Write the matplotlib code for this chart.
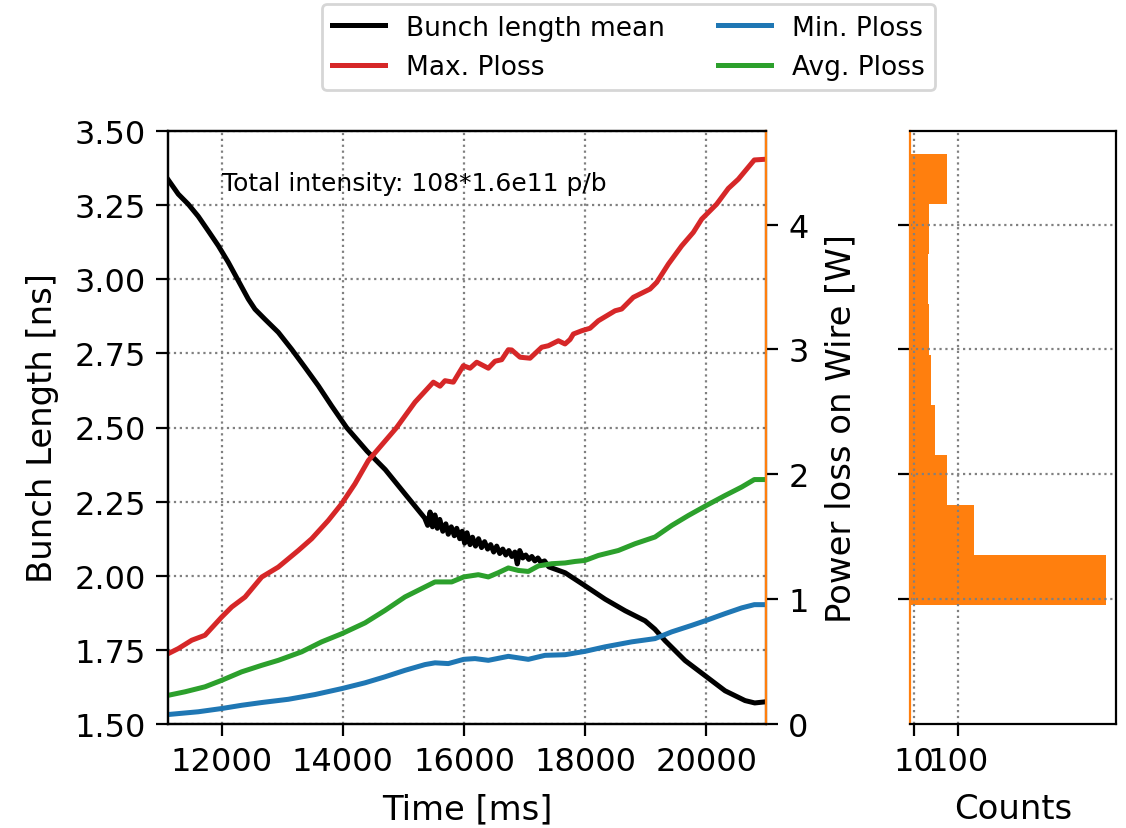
import matplotlib
matplotlib.use("Agg")
import matplotlib.pyplot as plt
import numpy as np

# ---------------- data ----------------
t_black = [11118, 11283, 11448, 11613, 11778, 11944, 12109, 12274, 12439, 12549,
           12714, 12934, 13154, 13374, 13594, 13814, 14061, 14400, 14700, 15030,
           15350, 15400, 15440, 15480, 15520, 15560, 15600, 15650, 15700, 15740,
           15790, 15840, 15880, 15930, 15970, 16010, 16050, 16100, 16140, 16190,
           16240, 16290, 16340, 16390, 16440, 16490, 16540, 16590, 16640, 16690,
           16740, 16790, 16840, 16880, 16920, 16970, 17020, 17070, 17120, 17170,
           17220, 17270, 17330, 17400,
           17670, 18000, 18330, 18660, 18990, 19150, 19320, 19650, 19980, 20310,
           20640, 20800, 20986]
bunch_len = [3.335, 3.287, 3.253, 3.212, 3.163, 3.113, 3.057, 2.995, 2.933, 2.899,
             2.865, 2.821, 2.764, 2.703, 2.641, 2.573, 2.500, 2.420, 2.358, 2.275,
             2.195, 2.170, 2.215, 2.165, 2.205, 2.160, 2.190, 2.150, 2.175, 2.140,
             2.165, 2.135, 2.160, 2.125, 2.150, 2.110, 2.145, 2.105, 2.130, 2.100,
             2.125, 2.095, 2.115, 2.090, 2.105, 2.080, 2.100, 2.075, 2.090, 2.070,
             2.085, 2.065, 2.080, 2.040, 2.085, 2.060, 2.070, 2.055, 2.065, 2.050,
             2.060, 2.045, 2.050, 2.030,
             2.010, 1.966, 1.921, 1.882, 1.848, 1.820, 1.781, 1.714, 1.663, 1.612,
             1.579, 1.571, 1.575]

t_max = [11118, 11283, 11505, 11724, 12000, 12165, 12385, 12660, 12934, 13265,
         13485, 13759, 13980, 14200, 14420, 14880, 15191, 15494, 15604, 15686,
         15824, 15989, 16100, 16210, 16402, 16512, 16622, 16732, 16787, 16925,
         17090, 17283, 17393, 17558, 17668, 17751, 17806, 17944, 18081, 18218,
         18494, 18603, 18796, 19071, 19182, 19374, 19594, 19786, 19924, 20171,
         20364, 20529, 20793, 20986]
ploss_max = [0.564, 0.604, 0.671, 0.711, 0.857, 0.937, 1.017, 1.177, 1.257, 1.390,
             1.484, 1.630, 1.764, 1.924, 2.110, 2.370, 2.578, 2.738, 2.706, 2.750,
             2.738, 2.870, 2.850, 2.898, 2.850, 2.906, 2.918, 2.998, 2.996, 2.938,
             2.930, 3.018, 3.030, 3.070, 3.044, 3.080, 3.124, 3.150, 3.170, 3.230,
             3.310, 3.324, 3.418, 3.484, 3.538, 3.684, 3.830, 3.938, 4.044, 4.164,
             4.290, 4.364, 4.518, 4.524]

t_avg = [11118, 11394, 11724, 12000, 12330, 12660, 12934, 13320, 13650, 13986,
         14366, 14696, 15026, 15356, 15521, 15797, 15995, 16236, 16402, 16567,
         16732, 16897, 17062, 17228, 17448, 17668, 17833, 17998, 18218, 18549,
         18824, 19154, 19429, 19704, 20000, 20309, 20584, 20793, 20986]
ploss_avg = [0.230, 0.258, 0.298, 0.350, 0.418, 0.470, 0.510, 0.578, 0.658, 0.724,
             0.810, 0.910, 1.018, 1.098, 1.138, 1.138, 1.178, 1.196, 1.178, 1.212,
             1.250, 1.230, 1.222, 1.266, 1.284, 1.290, 1.302, 1.310, 1.350, 1.390,
             1.444, 1.498, 1.590, 1.670, 1.750, 1.830, 1.898, 1.958, 1.958]

t_min = [11118, 11613, 12000, 12330, 12660, 13100, 13540, 13986, 14366, 14696,
         15026, 15356, 15521, 15741, 15995, 16182, 16402, 16732, 17062, 17337,
         17668, 17998, 18328, 18769, 19154, 19429, 19759, 20000, 20309, 20584,
         20793, 20986]
ploss_min = [0.076, 0.098, 0.124, 0.150, 0.172, 0.198, 0.236, 0.284, 0.330, 0.378,
             0.430, 0.476, 0.490, 0.484, 0.518, 0.524, 0.510, 0.542, 0.518, 0.550,
             0.555, 0.582, 0.618, 0.658, 0.684, 0.738, 0.790, 0.830, 0.884, 0.930,
             0.956, 0.956]

hist_edges = [0.955, 1.355, 1.755, 2.155, 2.555, 2.958, 3.362, 3.764, 4.166, 4.566]
hist_counts = [409, 134, 77, 52, 45, 40, 38, 40, 77]

xticks_main = [12000, 14000, 16000, 18000, 20000]
yticks_left = [1.50, 1.75, 2.00, 2.25, 2.50, 2.75, 3.00, 3.25, 3.50]
yticks_right = [0, 1, 2, 3, 4]
xticks_hist = [10, 100]

# ---------------- figure ----------------
W, H = 1126, 829
fig = plt.figure(figsize=(W / 200, H / 200), dpi=200)

TICK_FS = 11.5
LABEL_FS = 12.2
LW = 1.8

ax1 = fig.add_axes([168.3 / W, 1 - 725 / H, (766 - 168.3) / W, (725 - 132) / H])
ax2 = ax1.twinx()
ax3 = fig.add_axes([909.5 / W, 1 - 725 / H, (1116 - 909.5) / W, (725 - 132) / H])

l1, = ax1.plot(t_black, bunch_len, color='black', lw=LW, label='Bunch length mean')
l2, = ax2.plot(t_max, ploss_max, color='C3', lw=LW, label='Max. Ploss')
l3, = ax2.plot(t_min, ploss_min, color='C0', lw=LW, label='Min. Ploss')
l4, = ax2.plot(t_avg, ploss_avg, color='C2', lw=LW, label='Avg. Ploss')

ax1.set_xlim(11118, 20986)
ax1.set_ylim(1.5, 3.5)
ax2.set_ylim(0, 4.75)
ax1.set_xticks(xticks_main)
ax1.set_yticks(yticks_left)
ax1.set_yticklabels([f"{v:.2f}" for v in yticks_left])
ax2.set_yticks(yticks_right)
for a in (ax1, ax2, ax3):
    a.tick_params(labelsize=TICK_FS, length=4.2, pad=3.8)
ax1.grid(True, linestyle=':', color='gray', lw=0.8)
ax2.spines['right'].set_color('C1')

ax1.set_xlabel('Time [ms]', fontsize=LABEL_FS, labelpad=5.5)
ax1.set_ylabel('Bunch Length [ns]', fontsize=LABEL_FS, labelpad=5.5)
ax2.set_ylabel('Power loss on Wire [W]', fontsize=LABEL_FS, labelpad=5.5)

ax1.text(12000, 3.30, 'Total intensity: 108*1.6e11 p/b', fontsize=9.0)

# histogram
widths = np.diff(hist_edges)
ax3.barh(hist_edges[:-1], hist_counts, height=widths, align='edge',
         color='C1', linewidth=0)
ax3.set_ylim(0, 4.75)
ax3.set_yticks([1, 2, 3, 4])
ax3.tick_params(axis='y', labelleft=False)
ax3.set_xticks(xticks_hist)
ax3.grid(True, linestyle=':', color='gray', lw=0.8)
ax3.spines['left'].set_color('C1')
ax3.set_xlabel('Counts', fontsize=LABEL_FS, labelpad=5.5)

fig.legend(handles=[l1, l2, l3, l4], loc='upper center', ncol=2,
           bbox_to_anchor=(628.5 / W, 1 - 5 / H), borderaxespad=0,
           fontsize=9.5, columnspacing=2.0, handlelength=2.0)

fig.savefig('out.png', dpi=200)
